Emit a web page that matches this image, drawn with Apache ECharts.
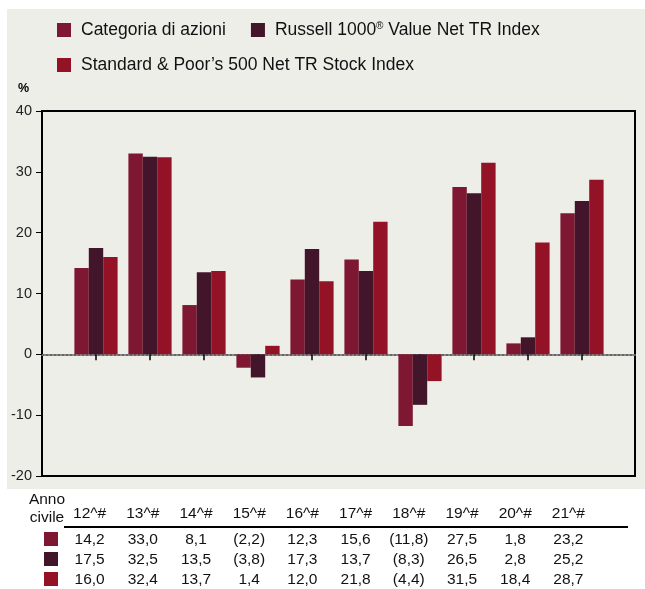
<!DOCTYPE html>
<html>
<head>
<meta charset="utf-8">
<script src="https://cdn.jsdelivr.net/npm/echarts@6/dist/echarts.min.js"></script>
<style>
  html, body { margin: 0; padding: 0; background: #fff; }
  #chart { width: 645px; height: 589px; }
</style>
</head>
<body>
<div id="chart"></div>
<script>
// calendar years (as printed) and annual returns, %
const categories = ["12^#", "13^#", "14^#", "15^#", "16^#", "17^#", "18^#", "19^#", "20^#", "21^#"];
const categoria = [14.2, 33.0, 8.1, -2.2, 12.3, 15.6, -11.8, 27.5, 1.8, 23.2];
const russell = [17.5, 32.5, 13.5, -3.8, 17.3, 13.7, -8.3, 26.5, 2.8, 25.2];
const sp500 = [16.0, 32.4, 13.7, 1.4, 12.0, 21.8, -4.4, 31.5, 18.4, 28.7];
const seriesNames = [
  "Categoria di azioni",
  "Russell 1000® Value Net TR Index",
  "Standard & Poor’s 500 Net TR Stock Index"
];
const yMin = -20, yMax = 40, yStep = 10;

const colors = ["#7e1732", "#42152a", "#931226"];
const FONT = "Liberation Sans, Arial, sans-serif";

// 14.2 -> "14,2", -2.2 -> "(2,2)"
const fmt = (v) => {
  const s = Math.abs(v).toFixed(1).replace(".", ",");
  return v < 0 ? "(" + s + ")" : s;
};

const chart = echarts.init(document.getElementById("chart"));

const legendBase = {
  left: 52,
  icon: "rect",
  itemWidth: 14,
  itemHeight: 14,
  itemGap: 25,
  selectedMode: false,
  textStyle: {
    fontFamily: FONT,
    fontSize: 17.5,
    color: "#111",
    padding: [0, 0, 0, 5],
    rich: {
      sup: { fontFamily: FONT, fontSize: 10, color: "#111", padding: [0, 0, 8, 0] }
    }
  },
  formatter: (name) => name.replace("®", "{sup|®}")
};

const rowAxis = (data, offset) => ({
  gridIndex: 2,
  type: "category",
  data: data,
  position: "bottom",
  offset: offset,
  axisLine: { show: false },
  axisTick: { show: false },
  axisLabel: { fontFamily: FONT, fontSize: 15.5, color: "#111", margin: 5, interval: 0 }
});

chart.setOption({
  animation: false,
  textStyle: { fontFamily: FONT },
  legend: [
    Object.assign({}, legendBase, { top: 16, data: seriesNames.slice(0, 2) }),
    Object.assign({}, legendBase, { top: 51, data: seriesNames.slice(2) })
  ],
  grid: [
    // frame + y axis
    { left: 42, top: 111, width: 593, height: 365, show: true, borderColor: "#000", borderWidth: 2, backgroundColor: "transparent" },
    // bars
    { left: 69, top: 111, width: 540, height: 365 },
    // table below
    { left: 63, top: 526, width: 532, height: 1 }
  ],
  xAxis: [
    {
      gridIndex: 0, type: "value", min: 0, max: 1,
      axisLine: { show: true, onZero: true, lineStyle: { color: "#666", width: 2, type: "dotted" } },
      axisTick: { show: false }, axisLabel: { show: false }, splitLine: { show: false }
    },
    {
      gridIndex: 1, type: "category", data: categories,
      axisLine: { show: true, onZero: true, lineStyle: { opacity: 0 } },
      axisTick: { show: true, alignWithLabel: true, length: 6, lineStyle: { color: "#000", width: 1.5 } },
      axisLabel: { show: false }
    },
    {
      gridIndex: 2, type: "category", data: categories, position: "top",
      axisLine: { show: false }, axisTick: { show: false },
      axisLabel: { fontFamily: FONT, fontSize: 15.5, color: "#111", margin: 4, interval: 0 }
    },
    rowAxis(categoria.map(fmt), 0),
    rowAxis(russell.map(fmt), 20),
    rowAxis(sp500.map(fmt), 40)
  ],
  yAxis: [
    {
      gridIndex: 0, type: "value", min: yMin, max: yMax, interval: yStep,
      axisLine: { show: true, lineStyle: { color: "#000", width: 2 } },
      axisTick: { show: true, length: 6, lineStyle: { color: "#000", width: 1 } },
      axisLabel: { fontFamily: FONT, fontSize: 14.5, color: "#222", margin: 10 },
      splitLine: { show: false }
    },
    {
      gridIndex: 1, type: "value", min: yMin, max: yMax, interval: yStep,
      axisLine: { show: false }, axisTick: { show: false }, axisLabel: { show: false }, splitLine: { show: false }
    },
    {
      gridIndex: 2, type: "value", show: false
    }
  ],
  series: [
    { name: seriesNames[0], type: "bar", xAxisIndex: 1, yAxisIndex: 1, data: categoria, itemStyle: { color: colors[0] }, barGap: "0%", barCategoryGap: "20%" },
    { name: seriesNames[1], type: "bar", xAxisIndex: 1, yAxisIndex: 1, data: russell, itemStyle: { color: colors[1] }, barGap: "0%", barCategoryGap: "20%" },
    { name: seriesNames[2], type: "bar", xAxisIndex: 1, yAxisIndex: 1, data: sp500, itemStyle: { color: colors[2] }, barGap: "0%", barCategoryGap: "20%" }
  ],
  graphic: [
    { type: "rect", z: -10, shape: { x: 7, y: 9, width: 638, height: 480 }, style: { fill: "#eeeee9" } },
    { type: "text", style: { x: 18, y: 82, text: "%", font: "bold 12.5px " + FONT, fill: "#000" } },
    { type: "text", style: { x: 47, y: 492, text: "Anno", font: "15.5px " + FONT, fill: "#111", textAlign: "center", align: "center" } },
    { type: "text", style: { x: 47, y: 510, text: "civile", font: "15.5px " + FONT, fill: "#111", textAlign: "center", align: "center" } },
    { type: "line", shape: { x1: 64, y1: 527, x2: 628, y2: 527 }, style: { stroke: "#000", lineWidth: 2 } },
    { type: "rect", shape: { x: 44, y: 532, width: 14, height: 14 }, style: { fill: colors[0] } },
    { type: "rect", shape: { x: 44, y: 552, width: 14, height: 14 }, style: { fill: colors[1] } },
    { type: "rect", shape: { x: 44, y: 572, width: 14, height: 14 }, style: { fill: colors[2] } }
  ]
});
</script>
</body>
</html>
